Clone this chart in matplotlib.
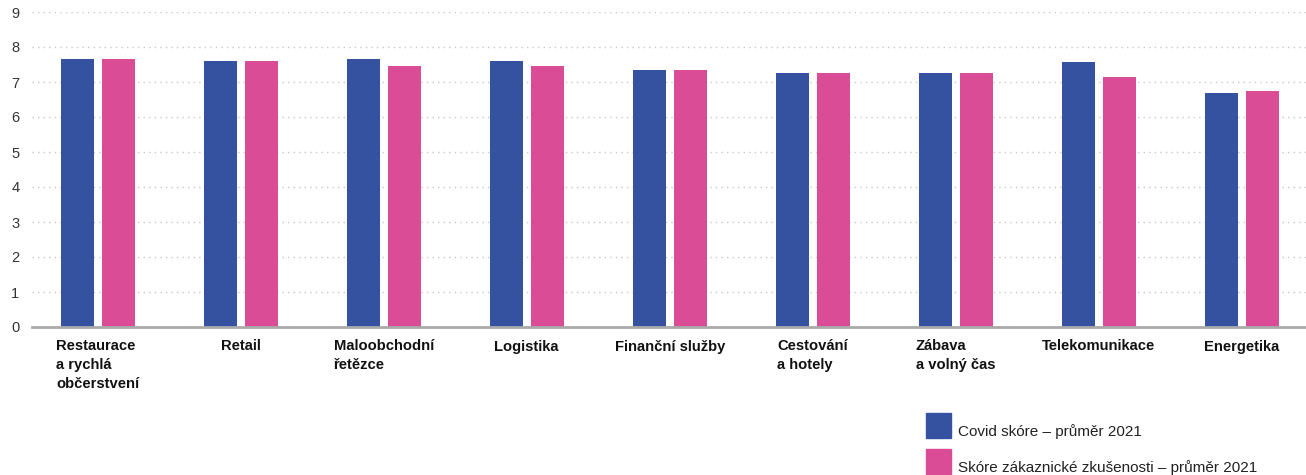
import numpy as np
import matplotlib.pyplot as plt
from matplotlib.patches import Rectangle

BLUE = "#3452A0"
PINK = "#DA4C96"

categories = ["Restaurace\na rychlá\nobčerstvení", "Retail", "Maloobchodní\nřetězce",
              "Logistika", "Finanční služby", "Cestování\na hotely",
              "Zábava\na volný čas", "Telekomunikace", "Energetika"]
covid = [7.66, 7.60, 7.66, 7.60, 7.34, 7.26, 7.26, 7.57, 6.69]
cx = [7.66, 7.60, 7.46, 7.46, 7.34, 7.26, 7.26, 7.14, 6.74]
series_names = ["Covid skóre – průměr 2021",
                "Skóre zákaznické zkušenosti – průměr 2021"]
yticks = list(range(0, 10))

plt.rcParams["font.family"] = ["Liberation Sans", "DejaVu Sans"]

W, H = 1306, 475
fig = plt.figure(figsize=(W / 100, H / 100), dpi=100)
ax = fig.add_axes([32 / W, (H - 327) / H, 1 - 32 / W, (327 - 12) / H])

x = np.arange(len(categories))
w = 0.23
off = 0.143
ax.bar(x - off, covid, w, color=BLUE, zorder=3)
ax.bar(x + off, cx, w, color=PINK, zorder=3)

ax.set_xlim(-0.46, 8.45)
ax.set_ylim(0, 9)
ax.set_yticks(yticks)
ax.set_yticklabels([str(t) for t in yticks], fontsize=10.5, color="#333333")
ax.yaxis.grid(True, color="#c8c8c8", linestyle=(0, (1, 3)), linewidth=1, zorder=0)
ax.tick_params(axis="y", length=0, pad=9)
ax.set_xticks(x)
ax.set_xticklabels(categories, fontsize=10.6, fontweight="bold", color="#111111",
                   multialignment="left", linespacing=1.45)
ax.tick_params(axis="x", length=0, pad=9)
for s in ["top", "right", "left"]:
    ax.spines[s].set_visible(False)
ax.spines["bottom"].set_color("#aaaaaa")
ax.spines["bottom"].set_linewidth(2)
ax.spines["bottom"].set_zorder(4)

# legend drawn in figure pixels
for i, (name, col) in enumerate(zip(series_names, [BLUE, PINK])):
    top = 413 + i * 36
    fig.add_artist(Rectangle((926 / W, (H - top - 25) / H), 25 / W, 25 / H,
                             transform=fig.transFigure, color=col))
    fig.text(958 / W, (H - top - 19) / H, name, fontsize=11, color="#222222",
             va="center", ha="left")

fig.savefig("out.png", dpi=100)
